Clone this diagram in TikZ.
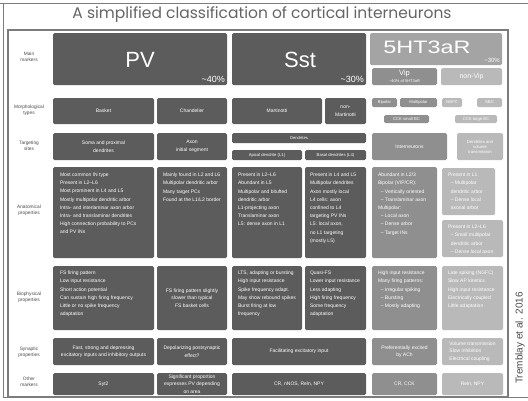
\documentclass[tikz,border=0pt]{standalone}
\usepackage{fontspec}
\setmainfont{Liberation Sans}
\newfontfamily\titlefont{Poppins}
\usetikzlibrary{positioning,backgrounds,calc}

\definecolor{boxdark}{HTML}{5C5C5C}
\definecolor{boxmid}{HTML}{8F8F8F}
\definecolor{boxlight}{HTML}{B9B9B9}
\definecolor{headmid}{HTML}{A4A4A4}
\definecolor{linkgray}{HTML}{A8A8A8}
\definecolor{framegray}{HTML}{7C7C7C}
\definecolor{labelgray}{HTML}{4A4A4A}

\newcommand{\listfont}{\fontsize{5}{8.2}\selectfont}
\newcommand{\tagfont}{\fontsize{5}{7.5}\selectfont}
\newcommand{\smalltagfont}{\fontsize{4.2}{5}\selectfont}

\begin{document}
\begin{tikzpicture}[x=1pt, y=-1pt,
    cell/.style={rounded corners=1.5pt, inner sep=1pt, text=white, align=center, font=\tagfont},
    dark/.style={cell, fill=boxdark},
    mid/.style={cell, fill=boxmid},
    light/.style={cell, fill=boxlight},
    listtext/.style={anchor=north west, inner sep=0pt, align=left, text=white, font=\listfont},
    rowlabel/.style={align=center, inner sep=0pt, font=\fontsize{4.8}{5.8}\selectfont, text=labelgray},
    link/.style={draw=linkgray, line width=0.8pt},
    dashlink/.style={link, dash pattern=on 1.2pt off 1.2pt},
    sepline/.style={draw=gray!20, line width=0.6pt}]

    \useasboundingbox[fill=white] (0,0) rectangle (528,400);

    % Frame
    \draw[framegray, line width=1pt] (0,3) -- (528,3);
    \draw[framegray, line width=1pt] (3,3) -- (3,397) -- (528,397);
    \draw[framegray, line width=1.2pt] (8,30) rectangle (508,397);

    % Title and credit
    \node[font=\titlefont\fontsize{15.5}{15.5}\selectfont, text=labelgray!85] (title) at (262,15) {A simplified classification of cortical interneurons};
    \node[rotate=90, font=\fontsize{10}{10}\selectfont, text=labelgray] (credit) at (520,338) {Tremblay et al. 2016};

    % Row labels
    \node[rowlabel] (lblmain) at (29,57) {Main\\markers};
    \node[rowlabel] (lblmorph) at (29,110) {Morphological\\types};
    \node[rowlabel] (lbltarget) at (29,146) {Targeting\\sites};
    \node[rowlabel] (lblanat) at (29,210) {Anatomical\\properties};
    \node[rowlabel] (lblbio) at (29,297) {Biophysical\\properties};
    \node[rowlabel] (lblsyn) at (29,352) {Synaptic\\properties};
    \node[rowlabel] (lblother) at (29,382) {Other\\markers};

    % Main markers
    \node[dark, minimum width=174pt, minimum height=52pt] (pv) at (140,59) {};
    \node[text=white, font=\fontsize{22}{22}\selectfont] (pvname) at (140,60) {PV};
    \node[anchor=south east, inner sep=0pt, text=white, font=\fontsize{9}{9}\selectfont] (pvshare) at (225,83) {\textasciitilde 40\%};

    \node[dark, minimum width=134pt, minimum height=52pt] (sst) at (299,59) {};
    \node[text=white, font=\fontsize{22}{22}\selectfont] (sstname) at (300,60) {Sst};
    \node[anchor=south east, inner sep=0pt, text=white, font=\fontsize{9}{9}\selectfont] (sstshare) at (364,83) {\textasciitilde 30\%};

    \node[cell, fill=headmid, minimum width=132pt, minimum height=32pt] (htr) at (436,49) {};
    \node[text=white, font=\fontsize{18}{18}\selectfont] (htrname) at (427,47) {\scalebox{1.3}[1]{5HT3aR}};
    \node[anchor=south east, inner sep=0pt, text=white, font=\fontsize{6}{6}\selectfont] (htrshare) at (500,63) {\textasciitilde 30\%};

    \node[mid, minimum width=65pt, minimum height=17pt, font=\fontsize{7.5}{7.5}\selectfont] (vip) at (404.5,76.5) {Vip\\[-1pt]{\fontsize{4}{4}\selectfont\textasciitilde 40\% of 5HT3aR}};
    \node[light, minimum width=61pt, minimum height=17pt, font=\fontsize{7}{7}\selectfont] (nonvip) at (471.5,76.5) {non-Vip};

    % Morphological types
    \node[dark, minimum width=101pt, minimum height=26pt] (basket) at (103.5,111) {Basket};
    \node[dark, minimum width=70pt, minimum height=26pt] (chand) at (192,111) {Chandelier};
    \node[dark, minimum width=90pt, minimum height=26pt] (mart) at (277,111) {Martinotti};
    \node[dark, minimum width=41pt, minimum height=26pt] (nonmart) at (345.5,111) {non-\\Martinotti};
    \node[mid, minimum width=25pt, minimum height=9pt, font=\smalltagfont] (bipolar) at (384.5,102.5) {Bipolar};
    \node[mid, minimum width=37pt, minimum height=9pt, font=\smalltagfont] (multi) at (418.5,102.5) {Multipolar};
    \node[light, minimum width=20pt, minimum height=9pt, font=\smalltagfont] (ngfc) at (452,102.5) {NGFC};
    \node[light, minimum width=25pt, minimum height=9pt, font=\smalltagfont] (sbc) at (489.5,102.5) {SBC};
    \node[mid, minimum width=45pt, minimum height=8pt, font=\smalltagfont] (ccksmall) at (406.5,119) {CCK small BC};
    \node[light, minimum width=42pt, minimum height=8pt, font=\smalltagfont] (ccklarge) at (476,119) {CCK large BC};

    % Targeting sites
    \node[dark, minimum width=101pt, minimum height=27pt] (baskettarg) at (103.5,146.5) {Soma and proximal\\dendrites};
    \node[dark, minimum width=70pt, minimum height=27pt] (chandtarg) at (192,146.5) {Axon\\initial segment};
    \node[dark, minimum width=134pt, minimum height=10pt, font=\smalltagfont] (dendr) at (299,138) {Dendrites};
    \node[dark, minimum width=70pt, minimum height=10pt, font=\smalltagfont] (marttarg) at (267,155) {Apical dendrite (L1)};
    \node[dark, minimum width=61pt, minimum height=10pt, font=\smalltagfont] (nonmarttarg) at (335.5,155) {Basal dendrites (L4)};
    \node[mid, minimum width=75pt, minimum height=27pt] (viptarg) at (409.5,146.5) {Interneurons};
    \node[light, minimum width=46pt, minimum height=27pt, font=\smalltagfont] (nonviptarg) at (480,146.5) {Dendrites and\\volume\\transmission};

    % Anatomical properties
    \node[dark, minimum width=101pt, minimum height=91pt] (basketanat) at (103.5,212.5) {};
    \node[listtext] (basketanattxt) at ([shift={(7,6)}]basketanat.north west) {Most common IN type\\Present in L2--L6\\Most prominent in L4 and L5\\Mostly multipolar dendritic arbor\\Intra- and interlaminar axon arbor\\Intra- and translaminar dendrites\\High connection probability to PCs\\and PV INs};
    \node[dark, minimum width=70pt, minimum height=91pt] (chandanat) at (192,212.5) {};
    \node[listtext] (chandanattxt) at ([shift={(6,6)}]chandanat.north west) {Mainly found in L2 and L6\\Multipolar dendritic arbor\\Many target PCs\\Found at the L1/L2 border};
    \node[dark, minimum width=70pt, minimum height=91pt] (martanat) at (267,212.5) {};
    \node[listtext] (martanattxt) at ([shift={(6,6)}]martanat.north west) {Present in L2--L6\\Abundant in L5\\Multipolar and bitufted\\dendritic arbor\\L1-projecting axon\\Translaminar axon\\L5: dense axon in L1};
    \node[dark, minimum width=61pt, minimum height=91pt] (nonmartanat) at (335.5,212.5) {};
    \node[listtext] (nonmartanattxt) at ([shift={(5,6)}]nonmartanat.north west) {Present in L4 and L5\\Multipolar dendrites\\Axon mostly local\\L4 cells: axon\\confined to L4\\targeting PV INs\\L5: local axon,\\no L1 targeting\\(mostly L5)};
    \node[mid, minimum width=65pt, minimum height=91pt] (vipanat) at (404.5,212.5) {};
    \node[listtext] (vipanattxt) at ([shift={(6,6)}]vipanat.north west) {Abundant in L2/3\\Bipolar (VIP/CR):\\\ \ -- Vertically oriented\\\ \ -- Translaminar axon\\Multipolar:\\\ \ -- Local axon\\\ \ -- Dense arbor\\\ \ -- Target INs};
    \node[light, minimum width=53pt, minimum height=47pt] (nonvipanat) at (468.5,191.5) {};
    \node[listtext] (nonvipanattxt) at ([shift={(6,5)}]nonvipanat.north west) {Present in L1\\\ \ -- Multipolar\\\ \ dendritic arbor\\\ \ -- Dense local\\\ \ axonal arbor};
    \node[light, minimum width=61pt, minimum height=37pt] (nonvipanatb) at (472.5,238.5) {};
    \node[listtext] (nonvipanatbtxt) at ([shift={(6,5)}]nonvipanatb.north west) {Present in L2--L6\\\ \ -- Small multipolar\\\ \ dendritic arbor\\\ \ -- Dense local axon};

    % Biophysical properties
    \node[dark, minimum width=101pt, minimum height=64pt] (basketbio) at (103.5,298) {};
    \node[listtext] (basketbiotxt) at ([shift={(7,5)}]basketbio.north west) {FS firing pattern\\Low input resistance\\Short action potential\\Can sustain high firing frequency\\Little or no spike frequency\\adaptation};
    \node[dark, minimum width=70pt, minimum height=64pt] (chandbio) at (192,298) {FS firing pattern slightly\\slower than typical\\FS basket cells};
    \node[dark, minimum width=70pt, minimum height=64pt] (martbio) at (267,298) {};
    \node[listtext] (martbiotxt) at ([shift={(6,5)}]martbio.north west) {LTS, adapting or bursting\\High input resistance\\Spike frequency adapt.\\May show rebound spikes\\Burst firing at low\\frequency};
    \node[dark, minimum width=61pt, minimum height=64pt] (nonmartbio) at (335.5,298) {};
    \node[listtext] (nonmartbiotxt) at ([shift={(5,5)}]nonmartbio.north west) {Quasi-FS\\Lower input resistance\\Less adapting\\High firing frequency\\Some frequency\\adaptation};
    \node[mid, minimum width=65pt, minimum height=64pt] (vipbio) at (404.5,298) {};
    \node[listtext] (vipbiotxt) at ([shift={(6,5)}]vipbio.north west) {High input resistance\\Many firing patterns:\\\ \ -- Irregular spiking\\\ \ -- Bursting\\\ \ -- Mostly adapting};
    \node[light, minimum width=61pt, minimum height=64pt] (nonvipbio) at (472.5,298) {};
    \node[listtext] (nonvipbiotxt) at ([shift={(6,5)}]nonvipbio.north west) {Late spiking (NGFC)\\Slow AP kinetics\\High input resistance\\Electrically coupled\\Little adaptation};

    % Synaptic properties
    \node[dark, minimum width=101pt, minimum height=27pt] (basketsyn) at (103.5,351.5) {Fast, strong and depressing\\excitatory inputs and inhibitory outputs};
    \node[dark, minimum width=70pt, minimum height=27pt] (chandsyn) at (192,351.5) {Depolarizing postsynaptic\\effect?};
    \node[dark, minimum width=134pt, minimum height=27pt] (sstsyn) at (299,351.5) {Facilitating excitatory input};
    \node[mid, minimum width=65pt, minimum height=27pt] (vipsyn) at (404.5,351.5) {Preferentially excited\\by ACh};
    \node[light, minimum width=61pt, minimum height=27pt, align=left] (nonvipsyn) at (472.5,351.5) {Volume transmission\\Slow inhibition\\Electrical coupling};

    % Other markers
    \node[dark, minimum width=101pt, minimum height=22pt] (basketoth) at (103.5,384) {Syt2};
    \node[dark, minimum width=70pt, minimum height=22pt] (chandoth) at (192,384) {Significant proportion\\expresses PV depending\\on area};
    \node[dark, minimum width=134pt, minimum height=22pt] (sstoth) at (299,384) {CR, nNOS, Reln, NPY};
    \node[mid, minimum width=65pt, minimum height=22pt] (vipoth) at (404.5,384) {CR, CCK};
    \node[light, minimum width=61pt, minimum height=22pt] (nonvipoth) at (472.5,384) {Reln, NPY};

    % Relationships
    \begin{scope}[on background layer]
        \foreach \y in {128.5,163.5,262,334,369}
            \draw[sepline] (8,\y) -- (508,\y);

        \draw[link] (pv.south) -- ++(0,4) coordinate (pvfork);
        \draw[link] (basket.north) |- (pvfork) -| (chand.north);
        \draw[link] (sst.south) -- ++(0,5) coordinate (sstfork);
        \draw[link] (mart.north) |- (sstfork) -| (nonmart.north);
        \draw[link] (vip.south) -- ++(0,5) coordinate (vipfork);
        \draw[link] (bipolar.north) |- (vipfork) -| (multi.north);
        \draw[link] (nonvip.south) -- ++(0,5) coordinate (nonvipfork);
        \draw[link] (ngfc.north) |- (nonvipfork) -| (sbc.north);

        % PV columns
        \draw[link] (basket) -- (baskettarg);
        \draw[link] (baskettarg) -- (basketanat);
        \draw[link] (basketanat) -- (basketbio);
        \draw[link] (basketbio) -- (basketsyn);
        \draw[link] (basketsyn) -- (basketoth);
        \draw[link] (chand) -- (chandtarg);
        \draw[link] (chandtarg) -- (chandanat);
        \draw[link] (chandanat) -- (chandbio);
        \draw[link] (chandbio) -- (chandsyn);
        \draw[link] (chandsyn) -- (chandoth);

        % Sst columns
        \draw[link] (mart.south) -- (mart.south |- dendr.north);
        \draw[link] (nonmart.south) -- (nonmart.south |- dendr.north);
        \draw[link] (marttarg.north) -- (marttarg.north |- dendr.south);
        \draw[link] (nonmarttarg.north) -- (nonmarttarg.north |- dendr.south);
        \draw[link] (marttarg) -- (martanat);
        \draw[link] (nonmarttarg) -- (nonmartanat);
        \draw[link] (martanat) -- (martbio);
        \draw[link] (nonmartanat) -- (nonmartbio);
        \draw[link] (martbio.south) -- (martbio.south |- sstsyn.north);
        \draw[link] (nonmartbio.south) -- (nonmartbio.south |- sstsyn.north);
        \draw[link] (sstsyn) -- (sstoth);

        % Vip column
        \draw[link] (bipolar.south) -- (bipolar.south |- viptarg.north);
        \draw[link] (multi.south -| ccksmall) -- (ccksmall.north);
        \draw[link] (ccksmall.south) -- (ccksmall.south |- viptarg.north);
        \draw[dashlink] ([xshift=10pt]multi.south) -- ([xshift=10pt]multi.south |- viptarg.north);
        \draw[link] (vipanat.north) -- (vipanat.north |- viptarg.south);
        \draw[link] (vipanat) -- (vipbio);
        \draw[link] (vipbio) -- (vipsyn);
        \draw[link] (vipsyn) -- (vipoth);

        % non-Vip column
        \draw[link] (ngfc.south) -- (ngfc.south |- nonvipanat.north);
        \draw[link] (sbc.south) -- (sbc.south |- ccklarge.north);
        \draw[link] (ccklarge.south) -- (ccklarge.south |- nonviptarg.north);
        \draw[link] (nonviptarg.south) -- (nonviptarg.south |- nonvipanat.north);
        \draw[link] (nonvipanat.south) -- (nonvipanat.south |- nonvipanatb.north);
        \draw[link] (nonvipanatb) -- (nonvipbio);
        \draw[link] (nonvipbio) -- (nonvipsyn);
        \draw[link] (nonvipsyn) -- (nonvipoth);
    \end{scope}

\end{tikzpicture}
\end{document}
